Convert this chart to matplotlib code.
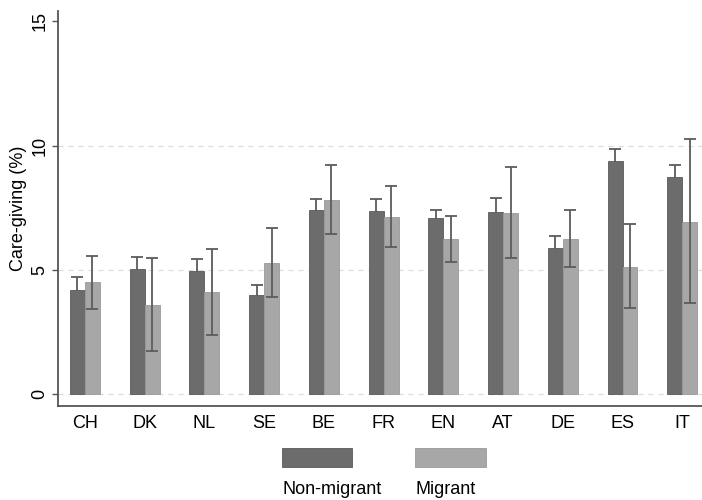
import numpy as np
import matplotlib
matplotlib.use("Agg")
import matplotlib.pyplot as plt
from matplotlib.patches import Rectangle

plt.rcParams['font.family'] = ['Liberation Sans', 'DejaVu Sans']

# data
countries = ["CH", "DK", "NL", "SE", "BE", "FR", "EN", "AT", "DE", "ES", "IT"]
non_migrant = [4.21, 5.05, 4.97, 3.98, 7.40, 7.36, 7.09, 7.33, 5.90, 9.37, 8.74]
non_migrant_hi = [4.70, 5.51, 5.43, 4.38, 7.84, 7.86, 7.43, 7.90, 6.37, 9.88, 9.24]
migrant = [4.50, 3.59, 4.10, 5.28, 7.82, 7.13, 6.23, 7.29, 6.25, 5.13, 6.94]
migrant_hi = [5.58, 5.47, 5.86, 6.69, 9.24, 8.39, 7.17, 9.13, 7.40, 6.85, 10.28]
migrant_lo = [3.44, 1.75, 2.40, 3.90, 6.45, 5.91, 5.31, 5.48, 5.12, 3.47, 3.66]
yticks = [0, 5, 10, 15]

dark = "#6c6c6c"
light = "#a7a7a7"
err_col = "#5c5c5c"
fs = 13

fig = plt.figure(figsize=(7.02, 5.0), dpi=100)
ax = fig.add_axes([58 / 702, 94.3 / 500, 1 - 58 / 702, (489 - 94.3) / 500])

x = np.arange(len(countries))
w = 0.25
nm = np.array(non_migrant)
mg = np.array(migrant)
nm_err = np.array(non_migrant_hi) - nm
mg_err = np.vstack([mg - np.array(migrant_lo), np.array(migrant_hi) - mg])

# dark bar whiskers sit behind the bars, so only the upper half shows
ax.errorbar(x - w / 2, nm, yerr=nm_err, fmt="none", ecolor=err_col,
            elinewidth=1.3, capsize=4, capthick=1.3, zorder=1.8)
ax.bar(x - w / 2, nm, w, color=dark, edgecolor="#5a5a5a", linewidth=0.6, zorder=2)
ax.bar(x + w / 2, mg, w, color=light, edgecolor="#999999", linewidth=0.6, zorder=2)
ax.errorbar(x + w / 2, mg, yerr=mg_err, fmt="none", ecolor=err_col,
            elinewidth=1.3, capsize=4, capthick=1.3, zorder=3)

for v in [0, 5, 10]:
    ax.axhline(v, color="#dcdcdc", linestyle=(0, (4, 4)), linewidth=0.9, zorder=1)

ax.set_xlim(-0.45, 10.33)
ax.set_ylim(-0.46, 15.42)
ax.set_xticks(x)
ax.set_xticklabels(countries, fontsize=fs)
ax.set_yticks(yticks)
ax.set_yticklabels([str(t) for t in yticks], fontsize=fs, rotation=90, va="center")
ax.tick_params(axis="x", length=0, pad=7)
ax.tick_params(axis="y", length=4, width=1, color="#555555", pad=3)
ax.set_ylabel("Care-giving (%)", fontsize=fs, labelpad=3)

for s in ["top", "right"]:
    ax.spines[s].set_visible(False)
for s in ["left", "bottom"]:
    ax.spines[s].set_color("#555555")
    ax.spines[s].set_linewidth(1.3)

# legend below the plot
fig.patches.append(Rectangle((281.7 / 702, (500 - 467.3) / 500), 70 / 702, 19 / 500,
                             transform=fig.transFigure, facecolor=dark, edgecolor="#5a5a5a", lw=0.6))
fig.patches.append(Rectangle((415 / 702, (500 - 467.3) / 500), 70.7 / 702, 19 / 500,
                             transform=fig.transFigure, facecolor=light, edgecolor="#999999", lw=0.6))
fig.text(282 / 702, (500 - 490) / 500, "Non-migrant", fontsize=fs, va="center", ha="left")
fig.text(415 / 702, (500 - 490) / 500, "Migrant", fontsize=fs, va="center", ha="left")

fig.savefig("out.png", dpi=100, facecolor="white")
